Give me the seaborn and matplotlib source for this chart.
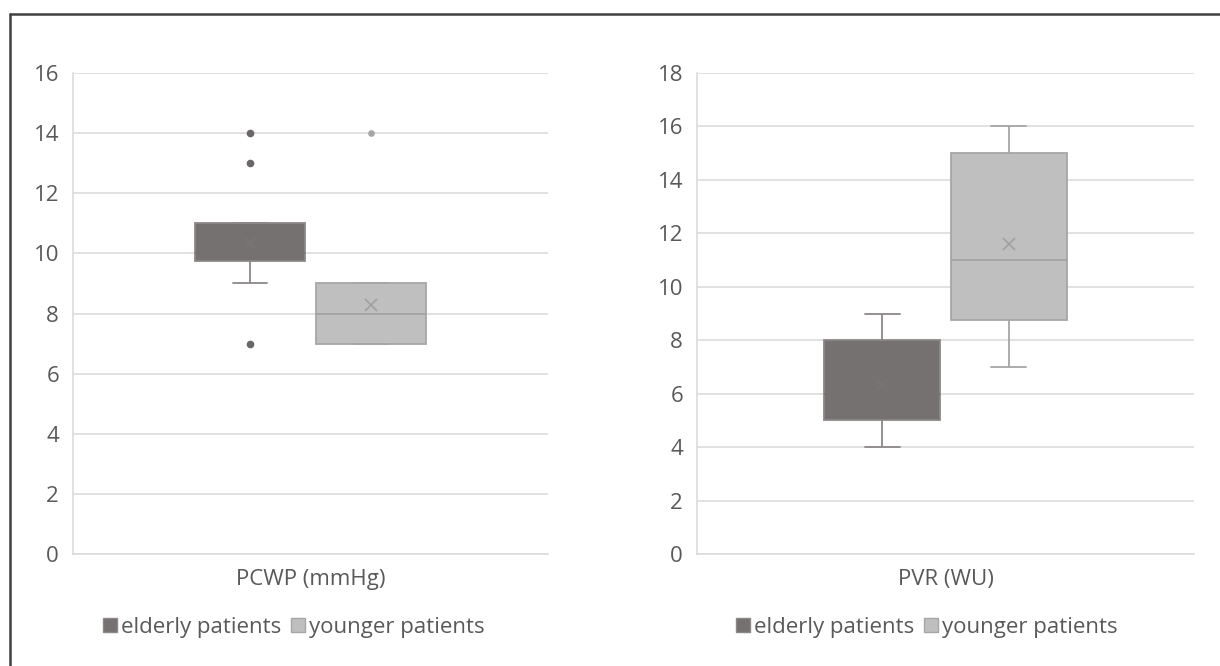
import matplotlib
matplotlib.use("Agg")
import numpy as np
import pandas as pd
import seaborn as sns
import matplotlib.pyplot as plt
from matplotlib.lines import Line2D

# ---------------- data ----------------
groups = ["elderly patients", "younger patients"]
pcwp_label = "PCWP (mmHg)"
pvr_label = "PVR (WU)"

pcwp_elderly = [7, 9, 9, 10, 10, 10, 10, 10, 11, 11, 13, 14]
pcwp_younger = [7, 7, 7, 7, 7, 7, 7, 7, 8, 9, 9, 9, 9, 9, 9, 9, 14]
pvr_elderly = [4, 5, 5, 6, 6, 6, 8, 8, 9]
pvr_younger = [7, 7, 8, 11, 11, 11, 15, 15, 15, 16]

pcwp_ticks = [0, 2, 4, 6, 8, 10, 12, 14, 16]
pvr_ticks = [0, 2, 4, 6, 8, 10, 12, 14, 16, 18]

# ---------------- styles ----------------
fill_colors = ["#767171", "#bfbfbf"]
line_colors = ["#8c8888", "#a6a6a6"]
median_colors = ["#777272", "#a3a3a3"]
mean_colors = ["#7a7575", "#a0a0a0"]
flier_colors = ["#6b6767", "#a6a6a6"]
flier_sizes = [4.5, 3.8]
text_color = "#595959"
grid_color = "#d9d9d9"

sns.set_theme(style="white")
plt.rcParams["font.family"] = ["Open Sans", "DejaVu Sans"]

W, H = 1220, 666
fig = plt.figure(figsize=(W / 100, H / 100), dpi=100)
ax1 = fig.add_axes([73 / W, 1 - 554 / H, 475 / W, 481 / H])
ax2 = fig.add_axes([697 / W, 1 - 554 / H, 497 / W, 481 / H])


def make_df(label, elderly, younger):
    return pd.DataFrame({
        "metric": [label] * (len(elderly) + len(younger)),
        "group": [groups[0]] * len(elderly) + [groups[1]] * len(younger),
        "value": list(elderly) + list(younger),
    })


def draw(ax, df, ticks, legend_x):
    sns.boxplot(
        data=df, x="metric", y="value", hue="group", hue_order=groups,
        palette=fill_colors, width=0.51, gap=0.09, whis=1.5,
        showmeans=True, linewidth=1.3, legend=False, ax=ax,
        capwidths=0.07,
        flierprops=dict(marker="o", markersize=4.5),
        meanprops=dict(marker="x", markersize=8, markeredgewidth=1.2),
    )
    for i, c in enumerate(ax.containers):
        for b in getattr(c, "boxes", []):
            b.set_edgecolor(line_colors[i])
            b.set_facecolor(fill_colors[i])
            b.set_linewidth(1.3)
        for ln in list(getattr(c, "whiskers", [])) + list(getattr(c, "caps", [])):
            ln.set_color(line_colors[i])
            ln.set_linewidth(1.3)
        for ln in getattr(c, "medians", []):
            ln.set_color(median_colors[i])
            ln.set_linewidth(1.3)
        for ln in getattr(c, "fliers", []):
            ln.set_markerfacecolor(flier_colors[i])
            ln.set_markeredgecolor(flier_colors[i])
            ln.set_markersize(flier_sizes[i])
        for ln in getattr(c, "means", []):
            ln.set_markeredgecolor(mean_colors[i])
            ln.set_markerfacecolor(mean_colors[i])

    ax.set_xlim(-0.5, 0.5)
    ax.set_ylim(ticks[0], ticks[-1])
    ax.set_yticks(ticks)
    ax.set_xlabel("")
    ax.set_ylabel("")
    ax.yaxis.grid(True, color=grid_color, linewidth=1.1)
    ax.xaxis.grid(False)
    ax.set_axisbelow(True)
    for s in ["top", "right"]:
        ax.spines[s].set_visible(False)
    for s in ["left", "bottom"]:
        ax.spines[s].set_color(grid_color)
        ax.spines[s].set_linewidth(1.1)
    ax.tick_params(axis="both", length=0, labelsize=16, colors=text_color)
    ax.tick_params(axis="y", pad=10)
    ax.tick_params(axis="x", pad=11)

    handles = [
        Line2D([], [], marker="s", linestyle="none", markersize=9.5,
               markerfacecolor=fill_colors[i], markeredgecolor=line_colors[i])
        for i in range(2)
    ]
    ax.legend(handles, groups, loc="center", bbox_to_anchor=(legend_x, -0.153),
              ncol=2, frameon=False, fontsize=16, handlelength=0.5,
              handletextpad=0.25, columnspacing=0.5, labelcolor=text_color,
              borderaxespad=0)


draw(ax1, make_df(pcwp_label, pcwp_elderly, pcwp_younger), pcwp_ticks, 0.466)
draw(ax2, make_df(pvr_label, pvr_elderly, pvr_younger), pvr_ticks, 0.463)

# outer frame (top and left edges visible in the reference)
fig.add_artist(Line2D([10 / W, 10 / W], [0, 1 - 14 / H], transform=fig.transFigure,
                      color="#404040", linewidth=1.8))
fig.add_artist(Line2D([10 / W, 1], [1 - 14 / H, 1 - 14 / H], transform=fig.transFigure,
                      color="#404040", linewidth=1.8))

fig.savefig("out.png", dpi=100)
